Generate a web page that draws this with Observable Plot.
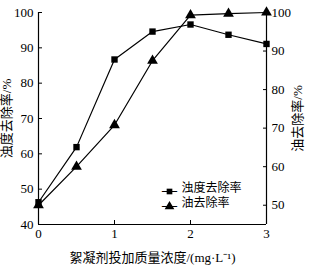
<!DOCTYPE html>
<html><head><meta charset="utf-8">
<script src="https://cdn.jsdelivr.net/npm/d3@7"></script>
<script src="https://cdn.jsdelivr.net/npm/@observablehq/plot@0.6"></script>
<style>body{margin:0;background:#fff}</style>
</head><body><div id="chart"></div>
<script>
const doses = [0, 0.5, 1, 1.5, 2, 2.5, 3];
const turbidity = [46.3, 61.9, 86.7, 94.6, 96.6, 93.7, 91.1];
const oil = [50, 60, 70.8, 87.5, 99.3, 99.7, 100];
const xTicks = [0, 1, 2, 3];
const leftTicks = [40, 50, 60, 70, 80, 90, 100];
const rightTicks = [50, 60, 70, 80, 90, 100];
const leftDomain = [40, 100];
const rightDomain = [45, 100];
const seriesNames = ["浊度去除率", "油去除率"];

const toLeft = v => leftDomain[0] + (v - rightDomain[0]) * (leftDomain[1] - leftDomain[0]) / (rightDomain[1] - rightDomain[0]);
const fromLeft = y => rightDomain[0] + (y - leftDomain[0]) * (rightDomain[1] - rightDomain[0]) / (leftDomain[1] - leftDomain[0]);

const turbData = doses.map((d, i) => ({x: d, y: turbidity[i]}));
const oilData = doses.map((d, i) => ({x: d, y: toLeft(oil[i])}));

const legendRow = (name, symbol, r, dy) => [
  Plot.text(["—"], {frameAnchor: "bottom-right", dx: -97, dy: dy + 3, text: d => d, textAnchor: "middle", fontSize: 15, fill: "#000", fontFamily: "'Liberation Serif', serif", fontWeight: "bold"}),
  Plot.dot([name], {frameAnchor: "bottom-right", dx: -97, dy: dy, symbol: symbol, r: r, fill: "#000", stroke: "none"}),
  Plot.text([name], {frameAnchor: "bottom-right", dx: -85, dy: dy, text: d => d, textAnchor: "start", fontSize: 12})
];

const plot = Plot.plot({
  width: 310, height: 268,
  marginLeft: 38, marginRight: 44, marginTop: 12, marginBottom: 44,
  style: {fontSize: "13px", fontFamily: "'Liberation Serif', 'Noto Sans CJK SC', serif", color: "#000", background: "#fff"},
  x: {domain: [0, 3]},
  y: {domain: leftDomain},
  marks: [
    Plot.ruleX([0, 3], {stroke: "#000", strokeWidth: 1.2}),
    Plot.ruleY([leftDomain[0]], {stroke: "#000", strokeWidth: 1.2}),
    Plot.axisX(xTicks, {tickSize: -4, tickPadding: 8, label: "絮凝剂投加质量浓度/(mg·L⁻¹)", labelAnchor: "center", labelArrow: "none", labelOffset: 37, tickFormat: d => d}),
    Plot.axisY(leftTicks, {anchor: "left", tickSize: -4, tickPadding: 9, label: "浊度去除率/%", labelAnchor: "center", labelArrow: "none", labelOffset: 37}),
    Plot.axisY(rightTicks.map(toLeft), {anchor: "right", tickSize: -4, tickPadding: 9, tickFormat: d => Math.round(fromLeft(d)), label: "油去除率/%", labelAnchor: "center", labelArrow: "none", labelOffset: 35}),
    Plot.line(turbData, {x: "x", y: "y", stroke: "#000", strokeWidth: 1.2}),
    Plot.line(oilData, {x: "x", y: "y", stroke: "#000", strokeWidth: 1.2}),
    Plot.dot(turbData, {x: "x", y: "y", symbol: "square", r: 3.6, fill: "#000", stroke: "none"}),
    Plot.dot(oilData, {x: "x", y: "y", symbol: "triangle", r: 4, fill: "#000", stroke: "none"}),
    ...legendRow(seriesNames[0], "square", 3.2, -33),
    ...legendRow(seriesNames[1], "triangle", 3.6, -18)
  ]
});
document.getElementById("chart").append(plot);
</script>
</body></html>
